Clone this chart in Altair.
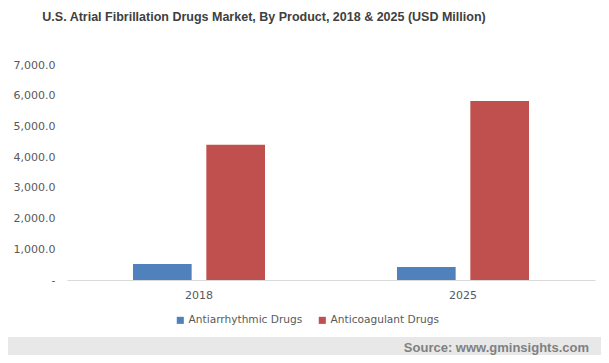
import altair as alt
import pandas as pd

years = ["2018", "2025"]
products = ["Antiarrhythmic Drugs", "Anticoagulant Drugs"]
antiarrhythmic = [520, 425]
anticoagulant = [4400, 5830]
colors = ["#4f81bd", "#c0504d"]
y_ticks = [0, 1000, 2000, 3000, 4000, 5000, 6000, 7000]
title_text = "U.S. Atrial Fibrillation Drugs Market, By Product, 2018 & 2025 (USD Million)"
source_text = "Source: www.gminsights.com"

rows = []
for i, yr in enumerate(years):
    rows.append({"year": yr, "product": products[0], "value": antiarrhythmic[i]})
    rows.append({"year": yr, "product": products[1], "value": anticoagulant[i]})
df = pd.DataFrame(rows)

label_font = "DejaVu Sans"
label_color = "#595959"

bars = alt.Chart(df).mark_bar().encode(
    x=alt.X("year:N", sort=years,
            scale=alt.Scale(paddingInner=0.5, paddingOuter=0.25),
            axis=alt.Axis(title=None, labelAngle=0, ticks=False, domainColor="#d9d9d9",
                          domainWidth=1, labelPadding=9, labelFont=label_font,
                          labelFontSize=11, labelColor=label_color, grid=False)),
    xOffset=alt.XOffset("product:N", sort=products,
                        scale=alt.Scale(paddingInner=0.2, paddingOuter=0)),
    y=alt.Y("value:Q",
            scale=alt.Scale(domain=[0, 7000], nice=False),
            axis=alt.Axis(title=None, values=y_ticks, grid=False, domain=False, ticks=False,
                          labelPadding=12, labelFont=label_font, labelFontSize=11,
                          labelColor=label_color,
                          labelExpr="datum.value == 0 ? '-' : format(datum.value, ',.1f')")),
    color=alt.Color("product:N",
                    scale=alt.Scale(domain=products, range=colors),
                    legend=alt.Legend(title=None, orient="none", direction="horizontal",
                                      legendX=108, legendY=250, symbolType="square",
                                      symbolSize=50, symbolStrokeWidth=0,
                                      labelFont=label_font, labelFontSize=10.6,
                                      labelColor=label_color, columnPadding=14,
                                      labelOffset=3)),
)

one = pd.DataFrame({"a": [0]})
band = alt.Chart(one).mark_rect(color="#e8e8e8").encode(
    x=alt.value(-59), x2=alt.value(534), y=alt.value(272), y2=alt.value(290)
)
source = alt.Chart(one).mark_text(
    align="right", baseline="middle", font="Liberation Sans", fontSize=13,
    fontWeight="bold", color="#808080"
).encode(x=alt.value(522), y=alt.value(283), text=alt.value(source_text))

chart = alt.layer(band, bars, source).properties(
    width=528, height=215,
    title=alt.TitleParams(title_text, anchor="middle", frame="group", dx=-67, offset=36,
                          font="Liberation Sans", fontSize=12.5, fontWeight="bold",
                          color="#404040"),
    autosize=alt.AutoSizeParams(type="none"),
    padding={"left": 59, "top": 57, "right": 6, "bottom": 75},
).configure_view(stroke=None)

chart.save("out.html", embed_options={"renderer": "svg", "actions": False})
